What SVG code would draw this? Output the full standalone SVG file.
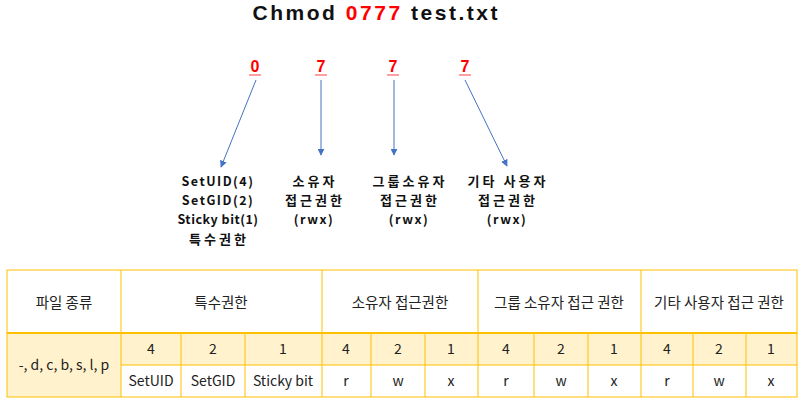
<svg xmlns="http://www.w3.org/2000/svg" width="800" height="400" viewBox="0 0 800 400">
<defs>
<marker id="ah" viewBox="0 0 10 10" refX="9" refY="5" markerWidth="7" markerHeight="7" orient="auto-start-reverse" markerUnits="userSpaceOnUse">
<path d="M0,0 L10,5 L0,10 z" fill="#4472C4"/>
</marker>
<style>
.title{font-family:"Liberation Sans","Noto Sans CJK KR",sans-serif;font-weight:bold;font-size:21px;fill:#111}
.red{fill:#FF0000}
.dig{font-family:"Liberation Sans","Noto Sans CJK KR",sans-serif;font-weight:bold;font-size:16px;fill:#FF0000;text-anchor:middle}
.lab{font-family:"Noto Sans CJK KR","Liberation Sans",sans-serif;font-weight:bold;font-size:12.5px;fill:#111;text-anchor:middle}
.ko{font-size:13px;letter-spacing:3px}
.conn{stroke:#4472C4;stroke-width:1;fill:none;marker-end:url(#ah)}
.cell{font-family:"Noto Sans CJK KR","Noto Sans",sans-serif;font-size:14px;fill:#222;text-anchor:middle;dominant-baseline:central}
.hdr{font-family:"Noto Sans CJK KR","Noto Sans",sans-serif;font-size:14.5px;fill:#222;text-anchor:middle;dominant-baseline:central}
.ln{stroke:#FFC000;stroke-width:1;fill:none}
.lnb{stroke:#FFC000;stroke-width:2;fill:none}
.s05{letter-spacing:0.5px}
.s15{letter-spacing:1.5px}
</style>
</defs>
<rect width="800" height="400" fill="#fff"/>

<g id="title">
<text class="title" x="375" y="20" text-anchor="middle" textLength="245" lengthAdjust="spacing">Chmod <tspan class="red">0777</tspan> test.txt</text>
</g>

<g id="digits">
<text class="dig" x="255" y="72">0</text>
<text class="dig" x="321" y="72">7</text>
<text class="dig" x="393" y="72">7</text>
<text class="dig" x="465" y="72">7</text>
<g stroke="#FF6060" stroke-width="1.2">
<line x1="249" y1="75" x2="261" y2="75"/>
<line x1="315" y1="75" x2="327" y2="75"/>
<line x1="387" y1="75" x2="399" y2="75"/>
<line x1="459" y1="75" x2="471" y2="75"/>
</g>
</g>

<g id="connectors">
<line class="conn" x1="256" y1="80" x2="221" y2="167"/>
<line class="conn" x1="321" y1="80" x2="321" y2="155"/>
<line class="conn" x1="394" y1="80" x2="394" y2="155"/>
<line class="conn" x1="465" y1="80" x2="507" y2="166"/>
</g>

<g id="label-special">
<text class="lab s15" x="218" y="186">SetUID(4)</text>
<text class="lab s15" x="218" y="205">SetGID(2)</text>
<text class="lab s05" x="218" y="224">Sticky bit(1)</text>
<text class="lab ko" x="219" y="244">특수권한</text>
</g>
<g id="label-owner">
<text class="lab ko" x="315" y="186">소유자</text>
<text class="lab ko" x="315" y="205">접근권한</text>
<text class="lab s15" x="314" y="224">(rwx)</text>
</g>
<g id="label-group">
<text class="lab ko" x="410" y="186">그룹소유자</text>
<text class="lab ko" x="410" y="205">접근권한</text>
<text class="lab s15" x="409" y="224">(rwx)</text>
</g>
<g id="label-other">
<text class="lab ko" x="508" y="186">기타 사용자</text>
<text class="lab ko" x="508" y="205">접근권한</text>
<text class="lab s15" x="507" y="224">(rwx)</text>
</g>

<g id="table">
<rect x="7" y="333" width="790" height="32" fill="#FFF2CC"/>
<rect x="7" y="365" width="114" height="32" fill="#FFF2CC"/>
<rect x="7" y="270" width="790" height="127" class="ln" stroke-width="1.5"/>
<line class="lnb" x1="7" y1="333" x2="797" y2="333"/>
<line class="ln" x1="121" y1="365" x2="797" y2="365"/>
<line class="ln" x1="121" y1="270" x2="121" y2="397" stroke-width="1.5"/>
<line class="ln" x1="322" y1="270" x2="322" y2="397" stroke-width="1.5"/>
<line class="ln" x1="478" y1="270" x2="478" y2="397" stroke-width="1.5"/>
<line class="ln" x1="641" y1="270" x2="641" y2="397" stroke-width="1.5"/>
<line class="ln" x1="181" y1="333" x2="181" y2="397"/>
<line class="ln" x1="245" y1="333" x2="245" y2="397"/>
<line class="ln" x1="371" y1="333" x2="371" y2="397"/>
<line class="ln" x1="425" y1="333" x2="425" y2="397"/>
<line class="ln" x1="534" y1="333" x2="534" y2="397"/>
<line class="ln" x1="588" y1="333" x2="588" y2="397"/>
<line class="ln" x1="693" y1="333" x2="693" y2="397"/>
<line class="ln" x1="746" y1="333" x2="746" y2="397"/>

<text class="hdr" x="64" y="301">파일 종류</text>
<text class="hdr" x="221" y="301">특수권한</text>
<text class="hdr" x="400" y="301">소유자 접근권한</text>
<text class="hdr" x="559" y="301">그룹 소유자 접근 권한</text>
<text class="hdr" x="719" y="301">기타 사용자 접근 권한</text>

<text class="cell" x="64" y="364">-, d, c, b, s, l, p</text>

<text class="cell" x="151" y="348">4</text>
<text class="cell" x="213" y="348">2</text>
<text class="cell" x="283" y="348">1</text>
<text class="cell" x="346" y="348">4</text>
<text class="cell" x="398" y="348">2</text>
<text class="cell" x="451" y="348">1</text>
<text class="cell" x="506" y="348">4</text>
<text class="cell" x="561" y="348">2</text>
<text class="cell" x="614" y="348">1</text>
<text class="cell" x="667" y="348">4</text>
<text class="cell" x="719" y="348">2</text>
<text class="cell" x="771" y="348">1</text>

<text class="cell" x="151" y="380">SetUID</text>
<text class="cell" x="213" y="380">SetGID</text>
<text class="cell" x="283" y="380">Sticky bit</text>
<text class="cell" x="346" y="380">r</text>
<text class="cell" x="398" y="380">w</text>
<text class="cell" x="451" y="380">x</text>
<text class="cell" x="506" y="380">r</text>
<text class="cell" x="561" y="380">w</text>
<text class="cell" x="614" y="380">x</text>
<text class="cell" x="667" y="380">r</text>
<text class="cell" x="719" y="380">w</text>
<text class="cell" x="771" y="380">x</text>
</g>
</svg>
